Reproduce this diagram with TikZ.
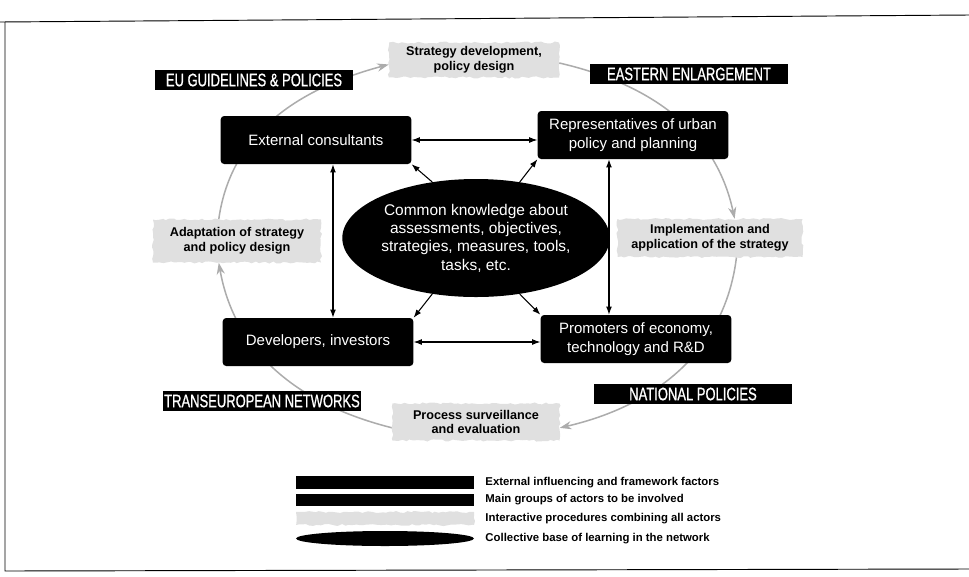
\documentclass[tikz,border=0pt]{standalone}
\usepackage{fontspec}
\setmainfont{Liberation Sans}
\newfontfamily\capsfont[FakeStretch=0.72, FakeBold=0.8]{Liberation Sans}
\usetikzlibrary{arrows.meta, positioning, shapes.geometric, decorations.pathmorphing}
\pgfdeclarelayer{bg}
\pgfsetlayers{bg,main}

\tikzset{
  actor/.style={fill=black, text=white, rounded corners=3pt, minimum width=5.72cm,
    minimum height=1.44cm, align=center, font=\fontsize{12.8}{16.2}\selectfont},
  factor/.style={fill=black, text=white, minimum width=5.95cm, minimum height=0.6cm,
    inner sep=0pt, font=\capsfont\fontsize{15.4}{16}\selectfont},
  procedure/.style={fill=black!12, inner sep=0pt, align=center, decorate,
    decoration={random steps, segment length=3pt, amplitude=0.9pt},
    font=\bfseries\fontsize{10.8}{12.4}\selectfont},
  learning/.style={ellipse, fill=black, text=white, inner sep=0pt, align=center,
    minimum width=7.08cm, minimum height=3.54cm, font=\fontsize{13.2}{15.7}\selectfont},
  link/.style={line width=0.9pt, {Latex[length=7pt,width=5pt]}-{Latex[length=7pt,width=5pt]}},
  reach/.style={line width=0.9pt, -{Latex[length=7pt,width=5pt]}},
  cycle/.style={gray!65, line width=1.3pt, -{Stealth[length=10pt,width=7pt]}},
  legtext/.style={inner sep=0pt, anchor=west, font=\bfseries\fontsize{9.7}{11}\selectfont}
}

\begin{document}
\begin{tikzpicture}[x=0.03cm, y=0.03cm]
  \pgfmathsetseed{7}
  \useasboundingbox (0,0) rectangle (969,-576);
  % Page frame
  \draw[line width=0.8pt] (0,-22) -- (969,-15);
  \draw[line width=0.8pt] (5,-22) -- (5,-571) -- (969,-569);
  % Main groups of actors
  \node[actor] (ext) at (316,-140) {External consultants};
  \node[actor] (rep) at (633,-135) {Representatives of urban\\policy and planning};
  \node[actor] (dev) at (318,-342) {Developers, investors};
  \node[actor] (prom) at (636,-339) {Promoters of economy,\\technology and R\&D};
  % Collective base of learning
  \node[learning] (know) at (476,-238) {Common knowledge about\\assessments, objectives,\\strategies, measures, tools,\\tasks, etc.};
  % External factors
  \node[factor] (eu) at (254,-80) {EU GUIDELINES \& POLICIES};
  \node[factor] (east) at (689,-74) {EASTERN ENLARGEMENT};
  \node[factor] (trans) at (262,-401) {TRANSEUROPEAN NETWORKS};
  \node[factor] (natl) at (693,-394) {NATIONAL POLICIES};
  % Interactive procedures
  \node[procedure, minimum width=5.1cm, minimum height=1.05cm] (strat) at (474,-60) {Strategy development,\\policy design};
  \node[procedure, minimum width=5.04cm, minimum height=1.29cm] (adapt) at (237,-241) {Adaptation of strategy\\and policy design};
  \node[procedure, minimum width=5.55cm, minimum height=1.14cm] (impl) at (710,-238) {Implementation and\\application of the strategy};
  \node[procedure, minimum width=5.01cm, minimum height=1.11cm] (proc) at (476,-422) {Process surveillance\\and evaluation};
  % Links between actors
  \draw[link] (ext.east) -- (ext.east -| rep.west);
  \draw[link] (dev.east) -- (dev.east -| prom.west);
  \draw[link] ([xshift=14.5pt]ext.south) -- ([xshift=14.5pt]ext.south |- dev.north);
  \draw[link] ([xshift=-20.5pt]rep.south) -- ([xshift=-20.5pt]rep.south |- prom.north);
  \draw[reach] (know.128) -- (ext.south east);
  \draw[reach] (know.52) -- (rep.south west);
  \draw[reach] (know.-128) -- (dev.north east);
  \draw[reach] (know.-52) -- (prom.north west);
  % Strategy cycle
  \begin{pgfonlayer}{bg}
    \draw[cycle] (adapt.130) to[out=82, in=195] (strat.183);
    \draw[cycle] (strat.-2) to[out=-13, in=102] (impl.38);
    \draw[cycle] (impl.-36) to[out=-97, in=13] (proc.-4);
    \draw[cycle] (proc.184) to[out=166, in=-80] (adapt.230);
  \end{pgfonlayer}
  % Legend
  \node[fill=black, inner sep=0pt, minimum width=5.34cm, minimum height=0.39cm] (lgfactor) at (385,-482.5) {};
  \node[fill=black, inner sep=0pt, minimum width=5.34cm, minimum height=0.36cm] (lgactor) at (385,-500) {};
  \node[procedure, minimum width=5.34cm, minimum height=0.39cm] (lgproc) at (385,-518.5) {};
  \node[ellipse, fill=black, inner sep=0pt, minimum width=5.34cm, minimum height=0.45cm] (lgbase) at (385,-538.5) {};
  \foreach \nm/\txt in {lgfactor/External influencing and framework factors,
      lgactor/Main groups of actors to be involved,
      lgproc/Interactive procedures combining all actors,
      lgbase/Collective base of learning in the network} {
    \node[legtext, right=0.33cm of \nm] (\nm txt) {\txt};
  }
\end{tikzpicture}
\end{document}
